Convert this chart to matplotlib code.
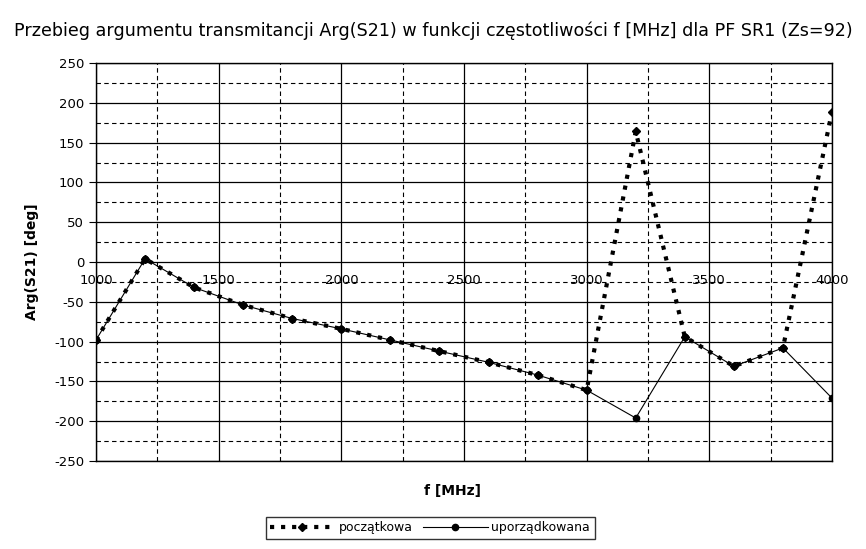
import numpy as np
import matplotlib
matplotlib.use("Agg")
import matplotlib.pyplot as plt

plt.rcParams['font.family'] = ['DejaVu Sans']
plt.rcParams['axes.unicode_minus'] = False

# frequency points [MHz]
freq = [1000, 1200, 1400, 1600, 1800, 2000, 2200, 2400, 2600, 2800,
        3000, 3200, 3400, 3600, 3800, 4000]
# phase as measured (wrapped) [deg]
arg_initial = [-98, 4, -32, -54, -71, -84, -98, -112, -126, -142,
               -161, 164, -94, -131, -108, 189]
# phase after ordering [deg]
arg_ordered = [-98, 4, -32, -54, -71, -84, -98, -112, -126, -142,
               -161, -196, -94, -131, -108, -171]

x_major = [1000, 1500, 2000, 2500, 3000, 3500, 4000]
y_major = np.arange(-250, 251, 50)

fig = plt.figure(figsize=(8.66, 5.49), dpi=100)
ax = fig.add_axes([96/866, 1-461/549, 736/866, 398/549])

ax.plot(freq, arg_initial, color="black", linestyle=":", linewidth=3,
        marker="D", markersize=4, label="początkowa")
ax.plot(freq, arg_ordered, color="black", linestyle="-", linewidth=0.8,
        marker="o", markersize=4.5, label="uporządkowana")

ax.set_xlim(1000, 4000)
ax.set_ylim(-250, 250)
ax.set_yticks(y_major)
ax.set_yticks(np.arange(-225, 250, 50), minor=True)
ax.set_xticks(x_major)
ax.set_xticks(np.arange(1250, 4000, 500), minor=True)
ax.grid(which="major", color="black", linestyle="-", linewidth=0.9)
ax.grid(which="minor", color="black", linestyle=(0, (4, 3)), linewidth=0.8)
ax.set_axisbelow(True)
ax.tick_params(axis="y", which="major", length=5, labelsize=9.5, direction="out")
ax.tick_params(axis="y", which="minor", length=0)
ax.tick_params(axis="x", which="both", length=0, labelbottom=False)
for s in ax.spines.values():
    s.set_linewidth(1.0)

# x tick labels sit just under the zero line
sec = ax.secondary_xaxis(0.5)
sec.set_xticks(x_major)
sec.xaxis.set_ticks_position('bottom')
sec.tick_params(length=0, labelsize=9.5, pad=9, labelbottom=True, labeltop=False)
for s in sec.spines.values():
    s.set_visible(False)

ax.set_ylabel("Arg(S21) [deg]", fontsize=10, fontweight="bold", labelpad=11)
ax.set_xlabel("f [MHz]", fontsize=10, fontweight="bold")
ax.xaxis.set_label_coords(0.484, -0.058)
fig.text(433/866, 1-31/549,
         "Przebieg argumentu transmitancji Arg(S21) w funkcji częstotliwości f [MHz] dla PF SR1 (Zs=92)",
         fontsize=12.6, ha="center", va="center")

leg = fig.legend(loc="center", bbox_to_anchor=(430/866, 1-528/549), ncol=2,
                 frameon=True, fancybox=False, edgecolor="black", fontsize=9,
                 handlelength=5.2, columnspacing=0.8, borderpad=0.35,
                 handletextpad=0.3, borderaxespad=0)
leg.get_frame().set_linewidth(1.0)

fig.savefig("out.png", dpi=100)
